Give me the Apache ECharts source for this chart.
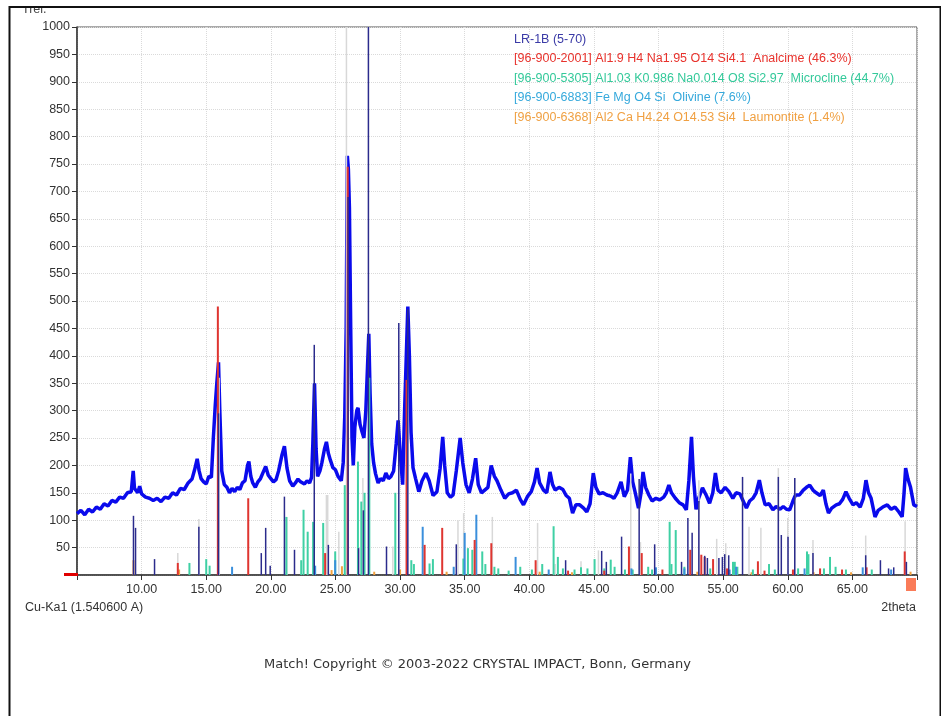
<!DOCTYPE html>
<html>
<head>
<meta charset="utf-8">
<script src="https://cdn.jsdelivr.net/npm/echarts@6/dist/echarts.min.js"></script>
<style>
  html, body { margin: 0; padding: 0; background: #fff; }
  #chart { width: 941px; height: 716px; }
</style>
</head>
<body>
<div id="chart"></div>
<script>
const twoTheta = [
  5.0, 5.3, 5.6, 5.9, 6.2, 6.5, 6.8, 7.1, 7.4, 7.7, 8.0, 8.3, 8.6, 8.9, 9.2, 9.35, 9.45, 9.7, 9.85,
  10.0, 10.3, 10.6, 10.9, 11.2, 11.5, 11.8, 12.1, 12.4, 12.7, 13.0, 13.3, 13.6, 13.9, 14.1, 14.3, 14.45,
  14.6, 14.8, 15.0, 15.2, 15.4, 15.55, 15.7, 15.82, 15.95, 16.05, 16.2, 16.4, 16.6, 16.8, 17.0, 17.2,
  17.4, 17.6, 17.8, 18.0, 18.2, 18.3, 18.45, 18.6, 18.8, 19.0, 19.2, 19.45, 19.6, 19.8, 20.0, 20.2,
  20.4, 20.6, 20.85, 21.05, 21.25, 21.45, 21.7, 21.9, 22.1, 22.3, 22.6, 22.8, 23.0, 23.15, 23.25,
  23.38, 23.5, 23.62, 23.8, 23.95, 24.15, 24.3, 24.45, 24.6, 24.8, 25.0, 25.2, 25.45, 25.6, 25.72,
  25.83, 25.92, 26.0, 26.08, 26.18, 26.28, 26.38, 26.5, 26.65, 26.75, 26.9, 27.05, 27.2, 27.35,
  27.48, 27.58, 27.68, 27.8, 27.95, 28.1, 28.3, 28.5, 28.7, 28.9, 29.1, 29.3, 29.5, 29.7, 29.85,
  30.0, 30.2, 30.35, 30.48, 30.6, 30.72, 30.85, 31.0, 31.2, 31.45, 31.7, 32.0, 32.25, 32.55, 32.85,
  33.1, 33.3, 33.45, 33.65, 33.9, 34.1, 34.35, 34.65, 34.85, 35.1, 35.35, 35.6, 35.85, 36.05, 36.3,
  36.55, 36.8, 37.05, 37.3, 37.5, 37.8, 38.1, 38.4, 38.7, 39.0, 39.3, 39.55, 39.85, 40.15, 40.4,
  40.6, 40.8, 41.1, 41.35, 41.6, 41.8, 42.0, 42.3, 42.6, 42.85, 43.1, 43.35, 43.6, 43.9, 44.2, 44.45,
  44.7, 44.95, 45.15, 45.4, 45.7, 46.0, 46.3, 46.55, 46.8, 47.1, 47.35, 47.6, 47.82, 48.0, 48.2,
  48.45, 48.65, 48.8, 49.0, 49.25, 49.5, 49.8, 50.1, 50.4, 50.6, 50.8, 51.0, 51.3, 51.6, 51.9,
  52.15, 52.35, 52.55, 52.7, 52.9, 53.1, 53.4, 53.7, 53.95, 54.2, 54.4, 54.6, 54.85, 55.15, 55.45,
  55.75, 56.0, 56.3, 56.55, 56.8, 57.05, 57.3, 57.55, 57.8, 58.0, 58.25, 58.55, 58.85, 59.1, 59.4,
  59.65, 59.9, 60.15, 60.4, 60.6, 60.9, 61.2, 61.45, 61.7, 61.95, 62.2, 62.5, 62.75, 62.95, 63.15,
  63.4, 63.75, 64.0, 64.25, 64.5, 64.75, 65.05, 65.3, 65.6, 65.85, 66.05, 66.25, 66.45, 66.75, 67.0,
  67.35, 67.7, 68.0, 68.3, 68.6, 68.85, 69.0, 69.12, 69.3, 69.5, 69.75, 70.0
];
const intensity = [
  112, 118, 110, 120, 115, 124, 120, 130, 126, 136, 133, 142, 140, 150, 152, 190, 158, 150, 162,
  148, 142, 140, 136, 140, 134, 142, 140, 150, 146, 158, 156, 168, 175, 192, 212, 190,
  176, 170, 166, 180, 178, 250, 310, 350, 388, 300, 190, 165, 160, 150, 158, 152,
  160, 156, 168, 172, 200, 207, 180, 168, 160, 170, 176, 190, 198, 182, 176, 170,
  174, 190, 218, 235, 195, 172, 162, 168, 175, 170, 166, 172, 168, 178, 240,
  350, 230, 180, 190, 205, 230, 243, 222, 210, 196, 192, 180, 172, 205, 290,
  450, 765, 740, 670, 450, 250, 200, 270, 300, 305, 275, 262, 250, 300,
  380, 440, 330, 240, 205, 185, 168, 176, 172, 186, 176, 180, 190, 240, 282,
  225, 165, 300, 398, 490, 400, 260, 196, 176, 152, 172, 186, 172, 145, 152,
  195, 252, 200, 150, 142, 146, 190, 250, 205, 165, 150, 175, 213, 165, 150,
  155, 160, 200, 180, 172, 155, 140, 148, 150, 155, 138, 128, 143, 152, 170,
  195, 168, 155, 150, 188, 165, 155, 160, 156, 145, 140, 113, 128, 128, 122, 115,
  130, 186, 160, 148, 150, 146, 144, 140, 150, 170, 143, 155, 215, 170, 150,
  122, 150, 188, 160, 146, 135, 140, 137, 142, 150, 164, 150, 140, 132, 128,
  119, 173, 252, 180, 120, 140, 159, 145, 131, 150, 186, 155, 150, 160, 152,
  140, 150, 148, 135, 122, 135, 140, 150, 173, 150, 128, 130, 119, 125, 120,
  125, 120, 119, 135, 146, 146, 155, 160, 164, 155, 150, 145, 155, 130, 113,
  122, 128, 130, 138, 152, 140, 128, 132, 124, 140, 173, 150, 140, 106, 118,
  124, 128, 120, 124, 115, 106, 150, 195, 175, 160, 128, 125
];

// peak list of the measured pattern (navy sticks)
const peakSticks = [
  [9.37, 108], [9.53, 86], [11.0, 29], [14.43, 88], [15.95, 295], [19.26, 40], [19.6, 86], [19.95, 17],
  [21.05, 143], [21.83, 46], [23.36, 420], [24.45, 55], [25.98, 690], [26.79, 49], [27.16, 118],
  [27.55, 1000], [28.95, 52], [29.9, 460], [30.6, 485], [34.35, 56], [42.81, 27], [45.6, 44],
  [45.96, 24], [47.14, 70], [48.5, 175], [49.7, 56], [51.78, 24], [52.27, 104], [52.6, 77],
  [53.12, 135], [53.57, 35], [53.78, 31], [54.67, 31], [54.94, 33], [55.12, 38], [55.43, 36],
  [56.5, 179], [59.27, 179], [59.5, 73], [60.02, 70], [60.54, 177], [61.95, 40], [66.03, 36],
  [67.17, 27], [67.8, 12], [68.2, 14], [69.18, 24]
];
// unmatched reference lines (light grey sticks)
const greySticks = [
  [12.8, 40], [14.43, 102], [16.0, 360], [21.24, 106], [24.3, 146], [24.4, 146], [25.26, 79],
  [25.85, 1000], [27.12, 177], [29.44, 52], [34.48, 100], [34.92, 113], [37.14, 106], [40.64, 95],
  [42.0, 20], [44.0, 25], [45.35, 45], [47.85, 185], [48.6, 60], [53.12, 173], [54.5, 66], [55.2, 58],
  [57.0, 88], [57.92, 86], [59.27, 195], [60.0, 104], [60.54, 177], [61.95, 64], [66.03, 72], [69.08, 98]
];
// [96-900-2001] Analcime
const analcimeSticks = [
  [12.8, 22], [15.9, 490], [18.25, 140], [24.2, 40], [25.95, 745], [30.5, 356], [31.9, 55], [33.26, 86],
  [35.77, 64], [37.06, 58], [40.49, 27], [43.0, 8], [45.8, 8], [47.71, 52], [48.7, 40], [50.3, 10],
  [52.45, 46], [53.31, 37], [53.57, 33], [54.22, 29], [55.3, 12], [57.69, 25], [58.2, 8], [60.4, 10],
  [62.5, 12], [64.2, 10], [66.1, 14], [69.05, 43]
];
// [96-900-5305] Microcline
const microclineSticks = [
  [13.7, 22], [15.0, 29], [15.26, 17], [21.2, 106], [22.35, 27], [22.53, 119], [22.85, 79], [23.27, 97],
  [24.05, 95], [24.98, 43], [25.72, 164], [26.74, 207], [27.0, 134], [27.25, 150], [27.62, 360],
  [29.63, 150], [30.87, 27], [31.07, 20], [32.28, 21], [32.54, 29], [34.9, 30], [35.25, 49], [35.59, 46],
  [36.36, 43], [36.6, 20], [37.3, 15], [37.6, 12], [38.4, 8], [39.3, 15], [40.2, 10], [41.0, 20],
  [41.88, 89], [42.21, 33], [42.6, 12], [43.5, 10], [44.0, 14], [44.5, 12], [45.05, 29], [45.8, 12],
  [46.3, 28], [46.6, 15], [47.4, 10], [48.0, 10], [49.2, 15], [49.5, 10], [50.86, 97], [51.0, 20],
  [51.33, 82], [52.0, 15], [54.0, 12], [55.76, 24], [55.9, 24], [56.1, 15], [57.3, 10], [58.55, 20],
  [59.0, 10], [60.8, 12], [61.49, 43], [61.6, 38], [62.8, 12], [63.27, 33], [63.7, 15], [64.5, 10], [66.5, 10]
];
// [96-900-6883] Olivine
const olivineSticks = [
  [17.0, 15], [23.43, 17], [24.98, 27], [31.75, 88], [34.15, 15], [35.0, 77], [35.9, 110], [38.94, 33],
  [41.5, 10], [47.9, 12], [49.8, 14], [52.0, 12], [55.5, 10], [56.0, 15], [61.3, 12], [65.8, 14], [68.0, 10]
];
// [96-900-6368] Laumontite
const laumontiteSticks = [
  [9.37, 27], [12.9, 10], [24.7, 9], [25.5, 16], [28.0, 6], [30.0, 10], [33.6, 6], [40.8, 6], [43.3, 5],
  [53.0, 6], [57.2, 5], [62.0, 5], [64.9, 5], [69.5, 6]
];

const legendLines = [
  ['LR-1B (5-70)', '#3a3aa6'],
  ['[96-900-2001] Al1.9 H4 Na1.95 O14 Si4.1  Analcime (46.3%)', '#e8322c'],
  ['[96-900-5305] Al1.03 K0.986 Na0.014 O8 Si2.97  Microcline (44.7%)', '#33c99a'],
  ['[96-900-6883] Fe Mg O4 Si  Olivine (7.6%)', '#36a9dc'],
  ['[96-900-6368] Al2 Ca H4.24 O14.53 Si4  Laumontite (1.4%)', '#f0a042']
];

const chart = echarts.init(document.getElementById('chart'));

function stickSeries(name, data, color, width) {
  return {
    name: name,
    type: 'custom',
    data: data,
    silent: true,
    z: 3,
    encode: { x: 0, y: 1 },
    renderItem: function (params, api) {
      const p0 = api.coord([api.value(0), 0]);
      const p1 = api.coord([api.value(0), api.value(1)]);
      return {
        type: 'line',
        shape: { x1: p0[0], y1: p0[1], x2: p1[0], y2: p1[1] },
        style: { stroke: color, lineWidth: width }
      };
    }
  };
}

const font = 'Liberation Sans, Arial, sans-serif';

const legendGraphics = legendLines.map(function (l, i) {
  return {
    type: 'text', left: 514, top: 33 + i * 19.5, z: 10,
    style: { text: l[0], fill: l[1], font: '12.5px ' + font }
  };
});

const option = {
  animation: false,
  backgroundColor: '#fff',
  grid: { left: 77, right: 24, top: 27, bottom: 141, show: true, borderColor: '#555', borderWidth: 1 },
  xAxis: {
    type: 'value', min: 5, max: 70, interval: 5,
    axisLine: { lineStyle: { color: '#333', width: 1.5 } },
    axisTick: { show: true, length: 5, lineStyle: { color: '#333' } },
    axisLabel: {
      color: '#333', fontFamily: font, fontSize: 12.5, margin: 8,
      formatter: function (v) { return (v === 5 || v === 70) ? '' : v.toFixed(2); }
    },
    splitLine: { show: true, lineStyle: { color: '#dadada', type: 'dotted' } }
  },
  yAxis: {
    type: 'value', min: 0, max: 1000, interval: 50,
    axisLine: { show: true, lineStyle: { color: '#333', width: 1.5 } },
    axisTick: { show: true, length: 5, lineStyle: { color: '#333' } },
    axisLabel: {
      color: '#333', fontFamily: font, fontSize: 12.5, margin: 7,
      formatter: function (v) { return v === 0 ? '' : v; }
    },
    splitLine: { show: true, lineStyle: { color: '#dadada', type: 'dotted' } }
  },
  series: [
    {
      name: 'LR-1B',
      type: 'line',
      data: twoTheta.map(function (t, i) { return [t, intensity[i]]; }),
      symbol: 'none',
      z: 2,
      lineStyle: { color: '#0a0aec', width: 3.5 }
    },
    stickSeries('grey', greySticks, '#d8d8d8', 1.5),
    stickSeries('Laumontite', laumontiteSticks, '#f2a13e', 2),
    stickSeries('Microcline', microclineSticks, '#3fd0a4', 2),
    stickSeries('Olivine', olivineSticks, '#3a8fdc', 2),
    stickSeries('Analcime', analcimeSticks, '#df3530', 2),
    stickSeries('peaks', peakSticks, '#2b2b8c', 1.5)
  ],
  graphic: [
    { type: 'rect', left: 7, top: 4.5, z: 20, shape: { width: 931, height: 720 },
      style: { fill: 'none', stroke: '#111', lineWidth: 2 } },
    { type: 'text', left: 22, top: 3, z: 10, style: { text: 'Trel.', fill: '#444', font: '12.5px ' + font } },
    { type: 'rect', left: 0, top: 0, z: 15, shape: { width: 941, height: 6 }, style: { fill: '#fff' } },
    { type: 'rect', left: 64, top: 573, z: 12, shape: { width: 14, height: 3 }, style: { fill: '#e00000' } },
    { type: 'rect', left: 906, top: 578, z: 12, shape: { width: 10, height: 13 }, style: { fill: '#fa7b58' } },
    { type: 'text', left: 25, top: 601, z: 10, style: { text: 'Cu-Ka1 (1.540600 A)', fill: '#333', font: '12.5px ' + font } },
    { type: 'text', right: 25, top: 601, z: 10, style: { text: '2theta', fill: '#333', font: '12.5px ' + font } },
    { type: 'text', left: 264, top: 658, z: 10,
      style: { text: 'Match! Copyright \u00a9 2003-2022 CRYSTAL IMPACT, Bonn, Germany', fill: '#333', font: '13px DejaVu Sans, Verdana, sans-serif' } }
  ].concat(legendGraphics)
};

chart.setOption(option);
</script>
</body>
</html>
